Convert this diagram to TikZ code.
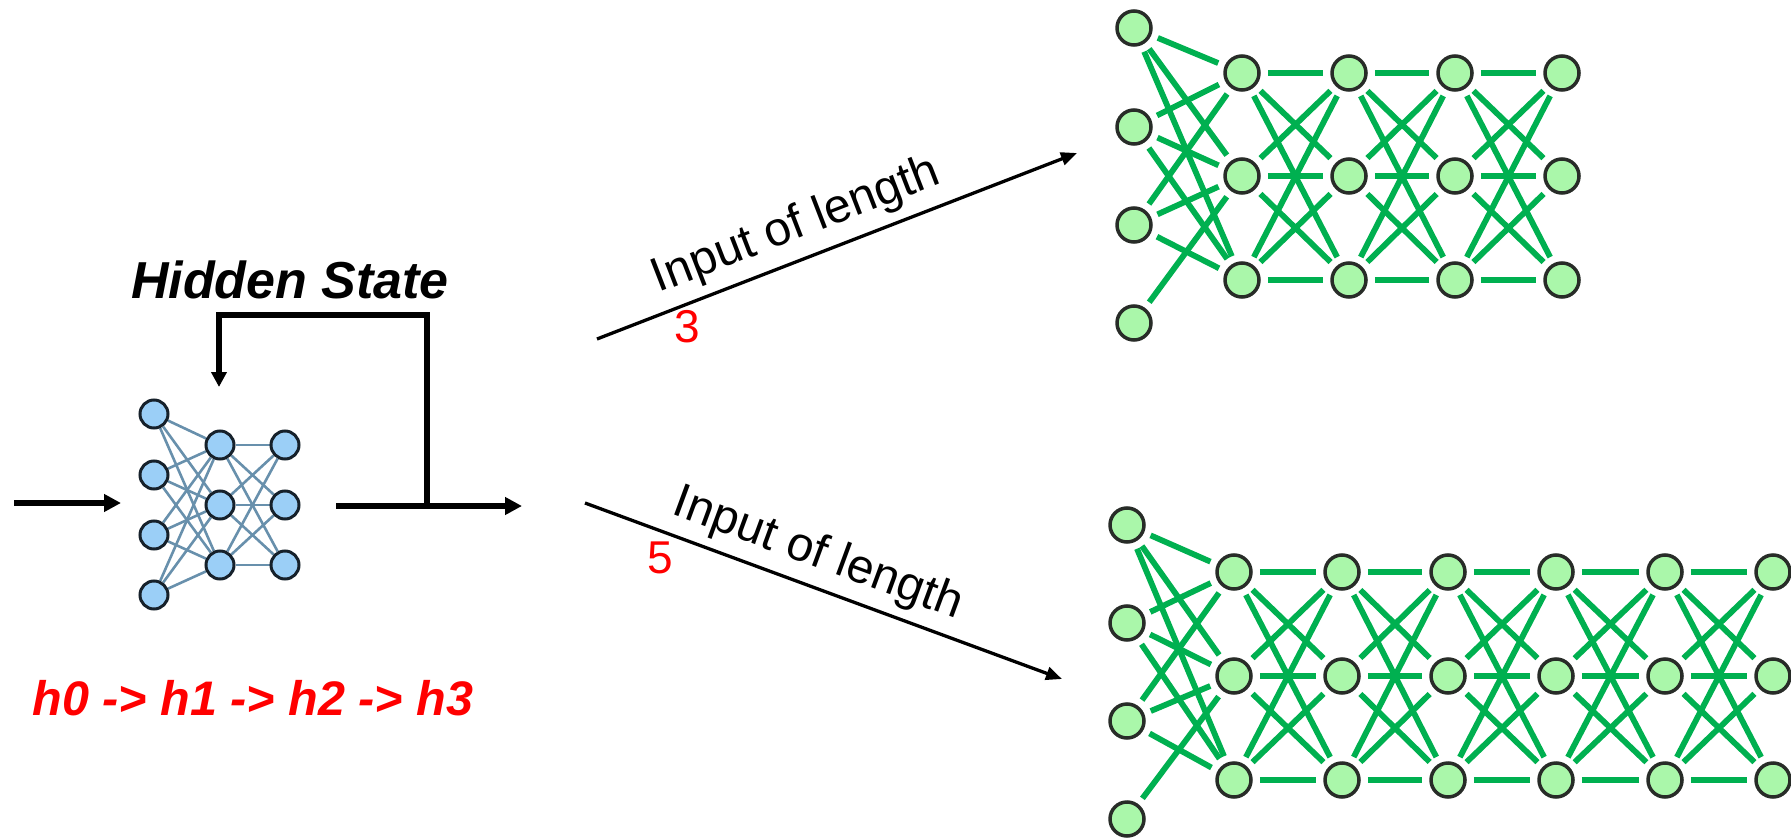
\documentclass[tikz,border=0pt]{standalone}
\usepackage{fontspec}
\setmainfont{Liberation Sans}
\usetikzlibrary{arrows.meta,backgrounds}

\definecolor{bluefill}{RGB}{155,207,247}
\definecolor{bluerim}{RGB}{22,33,43}
\definecolor{bluelink}{RGB}{104,144,172}
\definecolor{greenfill}{RGB}{170,247,170}
\definecolor{greenrim}{RGB}{40,44,40}
\definecolor{greenlink}{RGB}{0,176,80}

\begin{document}
\begin{tikzpicture}[x=1pt,y=-1pt,>={Triangle[length=17pt,width=17pt]},
                    line join=miter]
  \tikzstyle{every node}=[font=\fontsize{48}{58}\selectfont]
  \tikzstyle{cell}=[circle,draw=bluerim,fill=bluefill,line width=3pt,minimum size=28pt,inner sep=0pt]
  \tikzstyle{unit}=[circle,draw=greenrim,fill=greenfill,line width=3.5pt,minimum size=34pt,inner sep=0pt]
  \tikzstyle{wire}=[bluelink,line width=2.6pt]
  \tikzstyle{link}=[greenlink,line width=5.8pt,shorten >=7pt,shorten <=7pt]
  \tikzstyle{flow}=[->,line width=5.5pt]
  \tikzstyle{branch}=[->,line width=3.3pt,>={Triangle[length=16pt,width=13pt]}]
  \useasboundingbox (0,0) rectangle (1791,840);

  % recurrent cell
  \foreach \r/\y in {1/414,2/475,3/535,4/595}
    \node[cell] (a\r) at (154,\y) {};
  \foreach \r/\y in {1/445,2/505,3/565} {
    \node[cell] (b\r) at (220,\y) {};
    \node[cell] (c\r) at (285,\y) {};
  }
  \begin{scope}[on background layer]
    \foreach \i in {1,...,4}
      \foreach \j in {1,2,3}
        \draw[wire] (a\i) -- (b\j);
    \foreach \i in {1,2,3}
      \foreach \j in {1,2,3}
        \draw[wire] (b\i) -- (c\j);
  \end{scope}

  \coordinate (x0) at (14,503);
  \coordinate (x1) at (121,503);
  \coordinate (y0) at (336,506);
  \coordinate (y1) at (522,506);
  \coordinate (split) at (427,506);
  \coordinate (corner) at (219,315);
  \coordinate (back) at (219,387);
  \draw[flow] (x0) -- (x1);
  \draw[flow] (y0) -- (y1);
  \draw[flow,>={Triangle[length=15pt,width=15pt]}] (split) |- (corner) -- (back);

  \node[font=\fontsize{52}{62}\selectfont\bfseries\itshape,anchor=base] (hs) at (290,298) {Hidden State};
  \node[red,font=\fontsize{48.5}{58}\selectfont\bfseries\itshape,anchor=base] (hseq) at (253,715) {h0 -> h1 -> h2 -> h3};

  % unrolled over the two inputs
  \coordinate (p3) at (597,339);
  \coordinate (q3) at (1077,153);
  \draw[branch] (p3) -- node[sloped,above,pos=0.44,inner sep=9pt] (t3) {Input of length} (q3);
  \node[red,font=\fontsize{46}{55}\selectfont] (n3) at (687,327) {3};

  \coordinate (p5) at (585,503);
  \coordinate (q5) at (1062,679);
  \draw[branch] (p5) -- node[sloped,above,pos=0.465,inner sep=8pt] (t5) {Input of length} (q5);
  \node[red,font=\fontsize{46}{55}\selectfont] (n5) at (660,558) {5};

  % length 3
  \foreach \i/\y in {1/28,2/127,3/225,4/323}
    \node[unit] (u\i) at (1134,\y) {};
  \foreach \l/\x in {1/1242,2/1349,3/1455,4/1562}
    \foreach \r/\y in {1/73,2/176,3/280}
      \node[unit] (u\l-\r) at (\x,\y) {};
  \foreach \i/\j in {1/1,1/2,1/3,2/1,2/2,2/3,3/1,3/2,3/3,4/2}
    \draw[link] (u\i) -- (u1-\j);
  \foreach \l [count=\m from 2] in {1,2,3}
    \foreach \i in {1,2,3}
      \foreach \j in {1,2,3}
        \draw[link] (u\l-\i) -- (u\m-\j);

  % length 5
  \foreach \i/\y in {1/525,2/623,3/721,4/819}
    \node[unit] (d\i) at (1127,\y) {};
  \foreach \l/\x in {1/1234,2/1342,3/1448,4/1556,5/1665,6/1773}
    \foreach \r/\y in {1/572,2/676,3/780}
      \node[unit] (d\l-\r) at (\x,\y) {};
  \foreach \i/\j in {1/1,1/2,1/3,2/1,2/2,2/3,3/1,3/2,3/3,4/2}
    \draw[link] (d\i) -- (d1-\j);
  \foreach \l [count=\m from 2] in {1,...,5}
    \foreach \i in {1,2,3}
      \foreach \j in {1,2,3}
        \draw[link] (d\l-\i) -- (d\m-\j);
\end{tikzpicture}
\end{document}
